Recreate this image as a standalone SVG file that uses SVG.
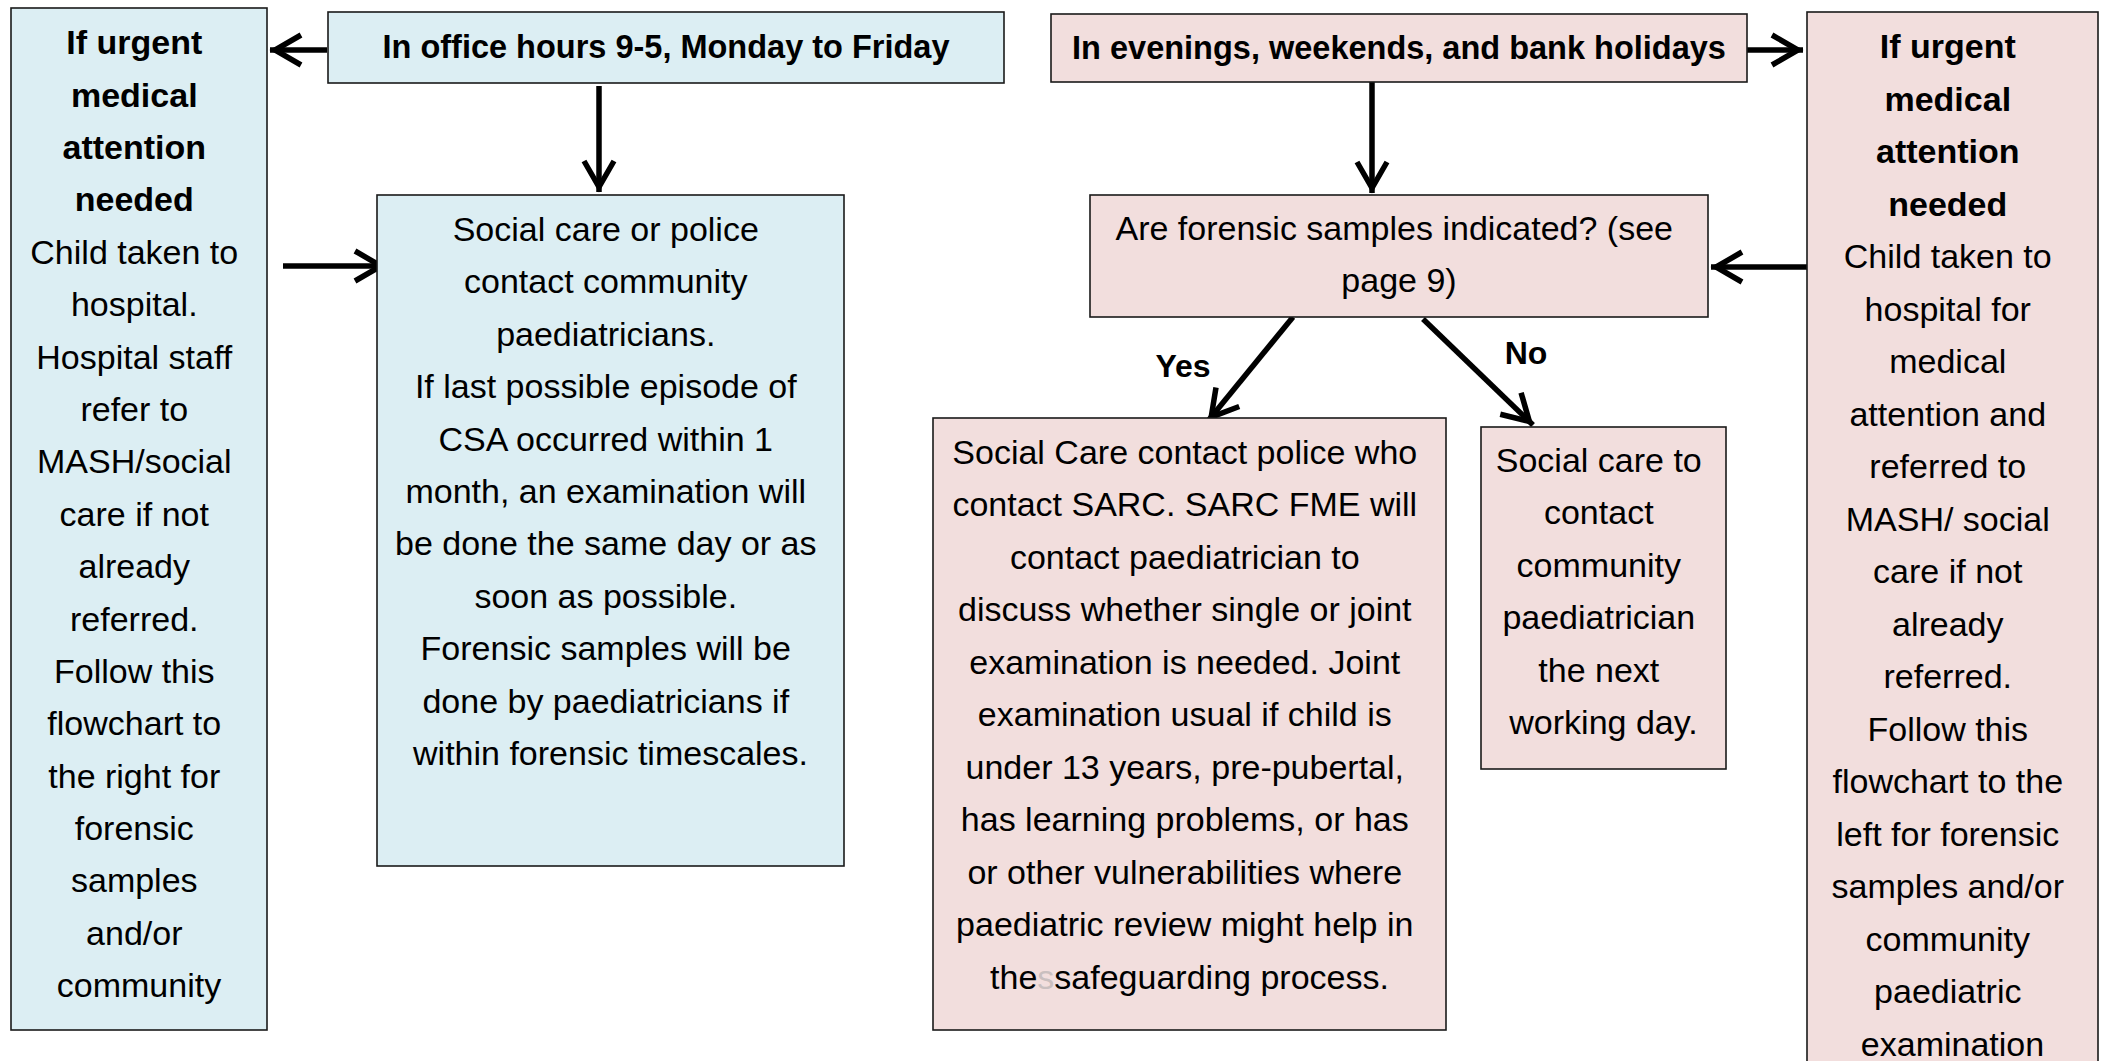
<svg xmlns="http://www.w3.org/2000/svg" width="2105" height="1061" viewBox="0 0 2105 1061">
  <style>
    .blue { fill: #DCEEF3; stroke: #1a1a1a; stroke-width: 1.6; }
    .pink { fill: #F2DEDD; stroke: #1a1a1a; stroke-width: 1.6; }
    text { font-family: "Liberation Sans", Arial, sans-serif; font-size: 34px; fill: #000; text-anchor: middle; }
    .b { font-weight: bold; }
    .hdr { font-weight: bold; font-size: 32.5px; }
    .lbl { font-weight: bold; font-size: 32px; }
    .conn { stroke: #000; stroke-width: 5.5; fill: none; marker-end: url(#ah); }
  </style>
  <defs>
    <marker id="ah" markerUnits="userSpaceOnUse" viewBox="-40 -20 44 40" markerWidth="44" markerHeight="40" refX="0" refY="0" orient="auto" overflow="visible">
      <path d="M-31,-15 L-5,0 L-31,15" fill="none" stroke="#000" stroke-width="5.5"/>
    </marker>
  </defs>
  <rect width="2105" height="1061" fill="#fff"/>

  <!-- connectors -->
  <g id="connectors">
    <line class="conn" x1="327" y1="50" x2="270" y2="50"/>
    <line class="conn" x1="599" y1="86" x2="599" y2="192"/>
    <line class="conn" x1="283" y1="266" x2="386" y2="266"/>
    <line class="conn" x1="1747" y1="50" x2="1803" y2="50"/>
    <line class="conn" x1="1372" y1="82" x2="1372" y2="193"/>
    <line class="conn" x1="1807" y1="267" x2="1711" y2="267"/>
    <line class="conn" x1="1293" y1="317" x2="1208" y2="421"/>
    <line class="conn" x1="1423" y1="319" x2="1533" y2="425"/>
  </g>

  <!-- office-hours branch -->
  <g id="office-hours">
    <rect class="blue" x="328" y="12" width="676" height="71"/>
    <text class="hdr" x="666" y="58">In office hours 9-5, Monday to Friday</text>
  </g>

  <g id="urgent-left">
    <rect class="blue" x="11" y="8" width="256" height="1022"/>
    <text>
      <tspan class="b" x="139" y="54">If urgent</tspan>
      <tspan class="b" x="139" y="107">medical</tspan>
      <tspan class="b" x="139" y="159">attention</tspan>
      <tspan class="b" x="139" y="211">needed</tspan>
      <tspan x="139" y="264">Child taken to</tspan>
      <tspan x="139" y="316">hospital.</tspan>
      <tspan x="139" y="369">Hospital staff</tspan>
      <tspan x="139" y="421">refer to</tspan>
      <tspan x="139" y="473">MASH/social</tspan>
      <tspan x="139" y="526">care if not</tspan>
      <tspan x="139" y="578">already</tspan>
      <tspan x="139" y="631">referred.</tspan>
      <tspan x="139" y="683">Follow this</tspan>
      <tspan x="139" y="735">flowchart to</tspan>
      <tspan x="139" y="788">the right for</tspan>
      <tspan x="139" y="840">forensic</tspan>
      <tspan x="139" y="892">samples</tspan>
      <tspan x="139" y="945">and/or</tspan>
      <tspan x="139" y="997">community</tspan>
    </text>
  </g>

  <g id="community-paeds">
    <rect class="blue" x="377" y="195" width="467" height="671"/>
    <text>
      <tspan x="610.5" y="241">Social care or police</tspan>
      <tspan x="610.5" y="293">contact community</tspan>
      <tspan x="610.5" y="346">paediatricians.</tspan>
      <tspan x="610.5" y="398">If last possible episode of</tspan>
      <tspan x="610.5" y="451">CSA occurred within 1</tspan>
      <tspan x="610.5" y="503">month, an examination will</tspan>
      <tspan x="610.5" y="555">be done the same day or as</tspan>
      <tspan x="610.5" y="608">soon as possible.</tspan>
      <tspan x="610.5" y="660">Forensic samples will be</tspan>
      <tspan x="610.5" y="713">done by paediatricians if</tspan>
      <tspan x="610.5" y="765">within forensic timescales.</tspan>
    </text>
  </g>

  <!-- out-of-hours branch -->
  <g id="out-of-hours">
    <rect class="pink" x="1051" y="14" width="696" height="68"/>
    <text class="hdr" x="1399" y="59">In evenings, weekends, and bank holidays</text>
  </g>

  <g id="forensic-question">
    <rect class="pink" x="1090" y="195" width="618" height="122"/>
    <text>
      <tspan x="1399" y="240">Are forensic samples indicated? (see</tspan>
      <tspan x="1399" y="292">page 9)</tspan>
    </text>
  </g>

  <g id="label-yes"><text class="lbl" x="1183" y="377">Yes</text></g>
  <g id="label-no"><text class="lbl" x="1526" y="364">No</text></g>

  <g id="sarc-route">
    <rect class="pink" x="933" y="418" width="513" height="612"/>
    <text>
      <tspan x="1189.5" y="464">Social Care contact police who</tspan>
      <tspan x="1189.5" y="516">contact SARC. SARC FME will</tspan>
      <tspan x="1189.5" y="569">contact paediatrician to</tspan>
      <tspan x="1189.5" y="621">discuss whether single or joint</tspan>
      <tspan x="1189.5" y="674">examination is needed. Joint</tspan>
      <tspan x="1189.5" y="726">examination usual if child is</tspan>
      <tspan x="1189.5" y="779">under 13 years, pre-pubertal,</tspan>
      <tspan x="1189.5" y="831">has learning problems, or has</tspan>
      <tspan x="1189.5" y="884">or other vulnerabilities where</tspan>
      <tspan x="1189.5" y="936">paediatric review might help in</tspan>
      <tspan x="1189.5" y="989">the<tspan fill="#c9bfbf">s</tspan>safeguarding process.</tspan>
    </text>
  </g>

  <g id="next-day">
    <rect class="pink" x="1481" y="427" width="245" height="342"/>
    <text>
      <tspan x="1603.5" y="472">Social care to</tspan>
      <tspan x="1603.5" y="524">contact</tspan>
      <tspan x="1603.5" y="577">community</tspan>
      <tspan x="1603.5" y="629">paediatrician</tspan>
      <tspan x="1603.5" y="682">the next</tspan>
      <tspan x="1603.5" y="734">working day.</tspan>
    </text>
  </g>

  <g id="urgent-right">
    <rect class="pink" x="1807" y="12" width="291" height="1070"/>
    <text>
      <tspan class="b" x="1952.5" y="58">If urgent</tspan>
      <tspan class="b" x="1952.5" y="111">medical</tspan>
      <tspan class="b" x="1952.5" y="163">attention</tspan>
      <tspan class="b" x="1952.5" y="216">needed</tspan>
      <tspan x="1952.5" y="268">Child taken to</tspan>
      <tspan x="1952.5" y="321">hospital for</tspan>
      <tspan x="1952.5" y="373">medical</tspan>
      <tspan x="1952.5" y="426">attention and</tspan>
      <tspan x="1952.5" y="478">referred to</tspan>
      <tspan x="1952.5" y="531">MASH/ social</tspan>
      <tspan x="1952.5" y="583">care if not</tspan>
      <tspan x="1952.5" y="636">already</tspan>
      <tspan x="1952.5" y="688">referred.</tspan>
      <tspan x="1952.5" y="741">Follow this</tspan>
      <tspan x="1952.5" y="793">flowchart to the</tspan>
      <tspan x="1952.5" y="846">left for forensic</tspan>
      <tspan x="1952.5" y="898">samples and/or</tspan>
      <tspan x="1952.5" y="951">community</tspan>
      <tspan x="1952.5" y="1003">paediatric</tspan>
      <tspan x="1952.5" y="1056">examination</tspan>
    </text>
  </g>
</svg>
